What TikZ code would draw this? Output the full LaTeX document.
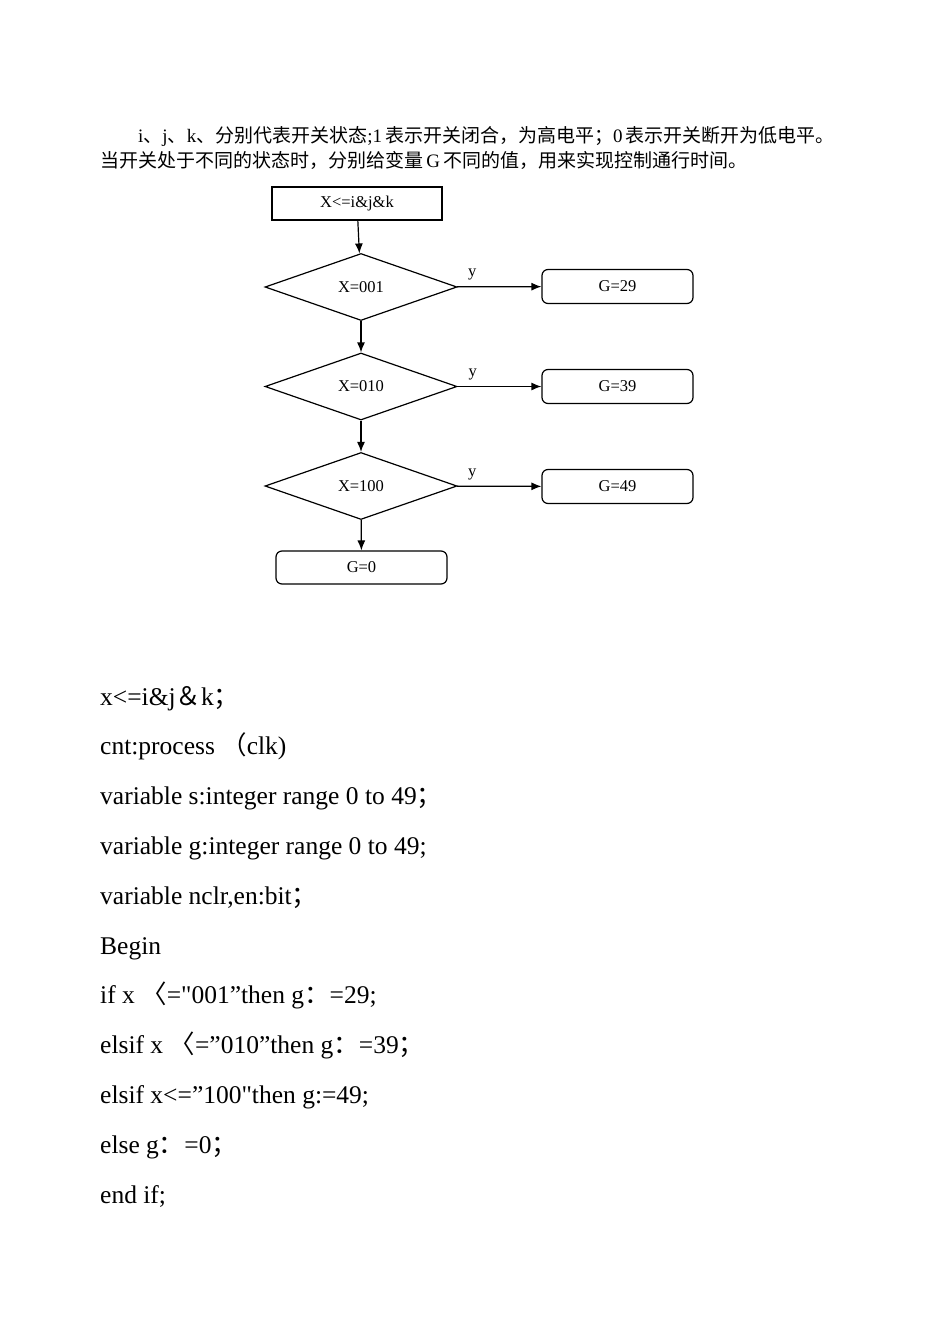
\documentclass[tikz,border=0pt]{standalone}
\usepackage{fontspec}
\setmainfont{Liberation Serif}[Ligatures=TeXOff]
\newfontfamily\cjk{Noto Sans CJK SC}
\newcommand{\zh}[1]{{\cjk #1}}
\usepackage{tikz}
\usetikzlibrary{arrows.meta,shapes}
\tikzset{>={Latex[length=10pt,width=8pt]}}
\tikzset{FCbox/.style={draw,line width=1.2pt,minimum width=170pt,minimum height=33pt,inner sep=0pt,font=\fontsize{16.5}{18}\selectfont}}
\tikzset{FCdiamond/.style={shape=diamond,draw,line width=1.2pt,minimum width=192pt,minimum height=67pt,inner sep=0pt,font=\fontsize{16.5}{18}\selectfont}}
\tikzset{FCround/.style={FCbox,rounded corners=6pt,minimum width=151pt,minimum height=34pt}}
\tikzset{FClabel/.style={above=6pt,pos=0.18,inner sep=0pt,font=\fontsize{16.5}{18}\selectfont}}
\tikzset{HEADline/.style={anchor=base west,inner sep=0pt,font=\fontsize{19}{22}\selectfont}}
\tikzset{CODEline/.style={anchor=base west,inner sep=0pt,font=\fontsize{25.5}{28}\selectfont}}

\begin{document}
\begin{tikzpicture}[x=1pt,y=-1pt]
	\useasboundingbox (0,0) rectangle (950,1344);
	% heading
	\node[HEADline] (H1) at (138,142.5) {i\zh{、}j\zh{、}k\zh{、分别代表开关状态};1\,\zh{表示开关闭合，为高电平；}0\,\zh{表示开关断开为低电平。}};
	\node[HEADline] (H2) at (100,167.5) {\zh{当开关处于不同的状态时，分别给变量}\,G\,\zh{不同的值，用来实现控制通行时间。}};
	% flowchart
	\node[FCbox] (X) at (357,203.5) {X<=i\&j\&k};
	\node[FCdiamond] (D1) at (361,287) {X=001};
	\node[FCdiamond] (D2) at (361,386.5) {X=010};
	\node[FCdiamond] (D3) at (361,486) {X=100};
	\node[FCround] (G29) at (617.5,286.5) {G=29};
	\node[FCround] (G39) at (617.5,386.5) {G=39};
	\node[FCround] (G49) at (617.5,486.5) {G=49};
	\node[FCround,minimum width=171pt,minimum height=33pt] (G0) at (361.5,567.5) {G=0};
	%
	\draw [->,line width=1.2pt] (X) -- (D1);
	\draw [->,line width=1.2pt] (D1) -- (D2);
	\draw [->,line width=1.2pt] (D2) -- (D3);
	\draw [->,line width=1.2pt] (D3) -- (G0);
	\draw [->,line width=1.2pt] (D1) -- node[FClabel]{y} (G29);
	\draw [->,line width=1.2pt] (D2) -- node[FClabel]{y} (G39);
	\draw [->,line width=1.2pt] (D3) -- node[FClabel]{y} (G49);
	% code
	\node[CODEline] (C1) at (100,705) {x<=i\&j\zh{＆}k\zh{；}};
	\node[CODEline] (C2) at (100,754.8) {cnt:process \zh{（}clk)};
	\node[CODEline] (C3) at (100,804.6) {variable s:integer range 0 to 49\zh{；}};
	\node[CODEline] (C4) at (100,854.4) {variable g:integer range 0 to 49;};
	\node[CODEline] (C5) at (100,904.2) {variable nclr,en:bit\zh{；}};
	\node[CODEline] (C6) at (100,954) {Begin};
	\node[CODEline] (C7) at (100,1003.8) {if x \zh{〈}="001”then g\zh{：}=29;};
	\node[CODEline] (C8) at (100,1053.6) {elsif x \zh{〈}=”010”then g\zh{：}=39\zh{；}};
	\node[CODEline] (C9) at (100,1103.4) {elsif x<=”100"then g:=49;};
	\node[CODEline] (C10) at (100,1153.2) {else g\zh{：}=0\zh{；}};
	\node[CODEline] (C11) at (100,1203) {end if;};
\end{tikzpicture}
\end{document}
